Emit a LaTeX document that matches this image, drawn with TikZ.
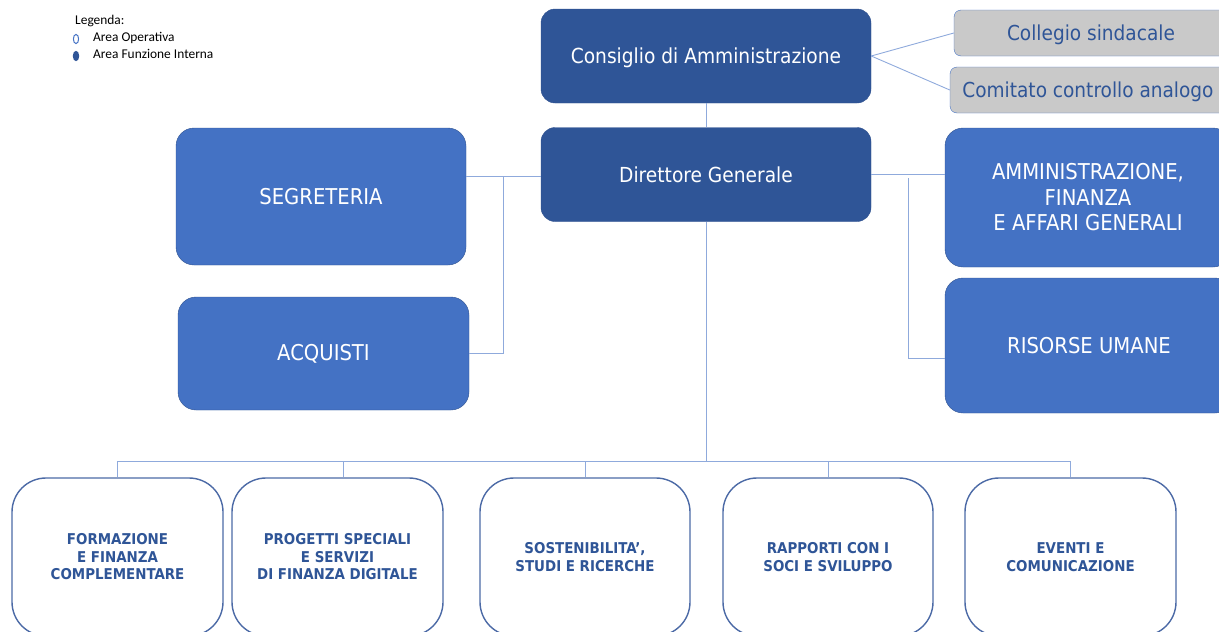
\documentclass[tikz,border=0pt]{standalone}
\usepackage{fontspec}
\setmainfont{DejaVu Sans Condensed}
\newfontfamily\legfont{Carlito}
\usetikzlibrary{calc}
\definecolor{darkbox}{HTML}{2F5597}
\definecolor{midbox}{HTML}{4472C4}
\definecolor{boxline}{HTML}{2F528F}
\definecolor{conn}{HTML}{8FAADC}
\definecolor{greybox}{HTML}{C9C9C9}
\definecolor{unitline}{HTML}{4C6AA6}

\begin{document}
\begin{tikzpicture}[x=1pt,y=-1pt,
  topbox/.style={draw=boxline,fill=darkbox,text=white,rounded corners=14pt,
    minimum width=330pt,minimum height=94pt,inner sep=0pt,text depth=0pt,
    font=\fontsize{20.7}{25.5}\selectfont,align=center},
  staffbox/.style={draw=boxline,fill=midbox,text=white,rounded corners=18pt,
    inner sep=0pt,font=\fontsize{21.8}{25.5}\selectfont,align=center},
  ctrlbox/.style={draw=midbox,fill=greybox,text=darkbox,rounded corners=7pt,
    minimum height=46pt,inner sep=0pt,text depth=0pt,font=\fontsize{20.6}{24}\selectfont},
  unitbox/.style={draw=unitline,line width=1.4pt,fill=white,text=darkbox,
    rounded corners=34pt,minimum width=211pt,minimum height=158pt,inner sep=0pt,
    font=\fontsize{14.9}{17.5}\selectfont\bfseries,align=center},
  legtext/.style={anchor=west,inner sep=0pt,font=\legfont\fontsize{13.4}{15}\selectfont},
  link/.style={draw=conn,line width=0.9pt}
]
\useasboundingbox (0,0) rectangle (1219,632);
\clip (0,0) rectangle (1219,632);

\node[legtext] (leg) at (75,21) {Legenda:};
\node[legtext] (legop) at (93,38) {Area Operativa};
\node[legtext] (legfi) at (93,54) {Area Funzione Interna};
\draw[midbox,line width=1pt] (76,39) ellipse (2.6 and 4.6);
\fill[darkbox] (76,56) ellipse (3.2 and 5.2);

\node[topbox] (cda) at (706,56) {Consiglio di Amministrazione};
\node[topbox] (dg) at (706,174.5) {Direttore Generale};

\node[ctrlbox,minimum width=274pt] (coll) at (1091,33) {Collegio sindacale};
\node[ctrlbox,minimum width=276pt] (com) at (1088,90) {Comitato controllo analogo};

\node[staffbox,minimum width=290pt,minimum height=137pt] (segr) at (321,196.5) {SEGRETERIA};
\node[staffbox,minimum width=291pt,minimum height=113pt] (acq) at (323.5,353.5) {ACQUISTI};
\node[staffbox,minimum width=286pt,minimum height=139pt] (amm) at (1088,197.5)
  {AMMINISTRAZIONE,\\FINANZA\\E AFFARI GENERALI};
\node[staffbox,minimum width=288pt,minimum height=135pt] (ris) at (1089,345.5) {RISORSE UMANE};

\node[unitbox] (form) at (117.5,557) {FORMAZIONE\\E FINANZA\\COMPLEMENTARE};
\node[unitbox] (prog) at (337.5,557) {PROGETTI SPECIALI\\E SERVIZI\\DI FINANZA DIGITALE};
\node[unitbox,minimum width=210pt] (sost) at (585,557) {SOSTENIBILITA’,\\STUDI E RICERCHE};
\node[unitbox,minimum width=210pt] (rapp) at (828,557) {RAPPORTI CON I\\SOCI E SVILUPPO};
\node[unitbox] (even) at (1070.5,557) {EVENTI E\\COMUNICAZIONE};

\draw[link] (cda) -- (dg);
\draw[link] (cda.east) -- (coll.west);
\draw[link] (cda.east) -- (com.west);

\coordinate (lj) at (503,176);
\draw[link] (dg.west |- lj) -- (segr.east |- lj);
\draw[link] (lj) |- (acq.east);

\coordinate (rj) at (908,178);
\coordinate (rr) at (908,358);
\draw[link] (dg.east) -- (dg.east -| amm.west);
\draw[link] (rj) -- (rr) -- (rr -| ris.west);

\coordinate (bus) at (706,461);
\draw[link] (dg.south) -- (bus);
\draw[link] (bus -| form.north) -- (bus -| even.north);
\foreach \u in {form,sost,rapp,even}
  \draw[link] (\u.north) -- (\u.north |- bus);
\draw[link] ($(prog.north)+(5.5,0)$) -- ($(prog.north |- bus)+(5.5,0)$);

\end{tikzpicture}
\end{document}
